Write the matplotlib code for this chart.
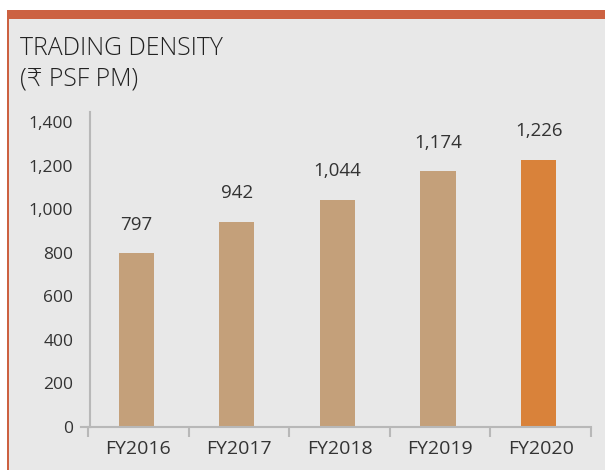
import matplotlib
matplotlib.use("Agg")
import matplotlib.pyplot as plt
from matplotlib.patches import Rectangle
import numpy as np

categories = ["FY2016", "FY2017", "FY2018", "FY2019", "FY2020"]
values = [797, 942, 1044, 1174, 1226]
labels = ["797", "942", "1,044", "1,174", "1,226"]
yticks = [0, 200, 400, 600, 800, 1000, 1200, 1400]
ytick_labels = ["0", "200", "400", "600", "800", "1,000", "1,200", "1,400"]
bar_colors = ["#c4a07a", "#c4a07a", "#c4a07a", "#c4a07a", "#d9823a"]

plt.rcParams['font.family'] = ['Open Sans', 'DejaVu Sans']

W, H = 605, 470
fig = plt.figure(figsize=(W/100, H/100), dpi=100)
fig.patch.set_facecolor("white")

# background panel
fig.add_artist(Rectangle((9/W, 0), 1 - 9/W, 1 - 10/H, transform=fig.transFigure,
                         facecolor="#e8e8e8", edgecolor="none", zorder=0))
# top orange band
fig.add_artist(Rectangle((7/W, 1 - 19/H), 1 - 7/W, 9/H, transform=fig.transFigure,
                         facecolor="#cc6141", edgecolor="none", zorder=1))
# left orange line
fig.add_artist(Rectangle((7/W, 0), 2/W, 1 - 19/H, transform=fig.transFigure,
                         facecolor="#cc6141", edgecolor="none", zorder=1))

fig.text(20/W, 1 - 55/H, "TRADING DENSITY", fontsize=17.8, color="#222222",
         ha="left", va="baseline", fontweight="light")
fig.text(20/W, 1 - 86/H, "(₹ PSF PM)", fontsize=17.8, color="#222222",
         ha="left", va="baseline", fontweight="light")

ax = fig.add_axes([88/W, 1 - 427/H, (591 - 88)/W, (427 - 112)/H])
ax.set_facecolor("none")
for s in ["top", "right"]:
    ax.spines[s].set_visible(False)
for s in ["left", "bottom"]:
    ax.spines[s].set_color("#b8b8b8")
    ax.spines[s].set_linewidth(1.5)
ax.spines["left"].set_position(("data", -0.48))

x = np.arange(len(categories))
ax.bar(x - 0.02, values, width=0.35, color=bar_colors, zorder=2)
for xi, v, lab in zip(x, values, labels):
    ax.annotate(lab, (xi - 0.02, v), xytext=(0, 14), textcoords="offset points",
                ha="center", va="bottom", fontsize=13.5, color="#333333")

ax.set_xlim(-0.5, len(categories) - 0.5)
ax.set_ylim(0, 1446)
ax.set_yticks(yticks)
ax.set_yticklabels(ytick_labels)
ax.set_xticks(x)
ax.set_xticklabels(categories)
ax.tick_params(axis="x", length=0, pad=9, labelsize=14, labelcolor="#333333")
ax.tick_params(axis="y", length=0, pad=12, labelsize=12.5, labelcolor="#333333")
ax.set_xticks(np.arange(len(categories) + 1) - 0.5, minor=True)
ax.tick_params(axis="x", which="minor", length=7, width=1.5, color="#b8b8b8", direction="out")

# small tick at 0 on the left
ax.plot([-0.57, -0.48], [0, 0], color="#b8b8b8", lw=1.5, clip_on=False, zorder=3)

fig.savefig("out.png", dpi=100, facecolor=fig.get_facecolor())
